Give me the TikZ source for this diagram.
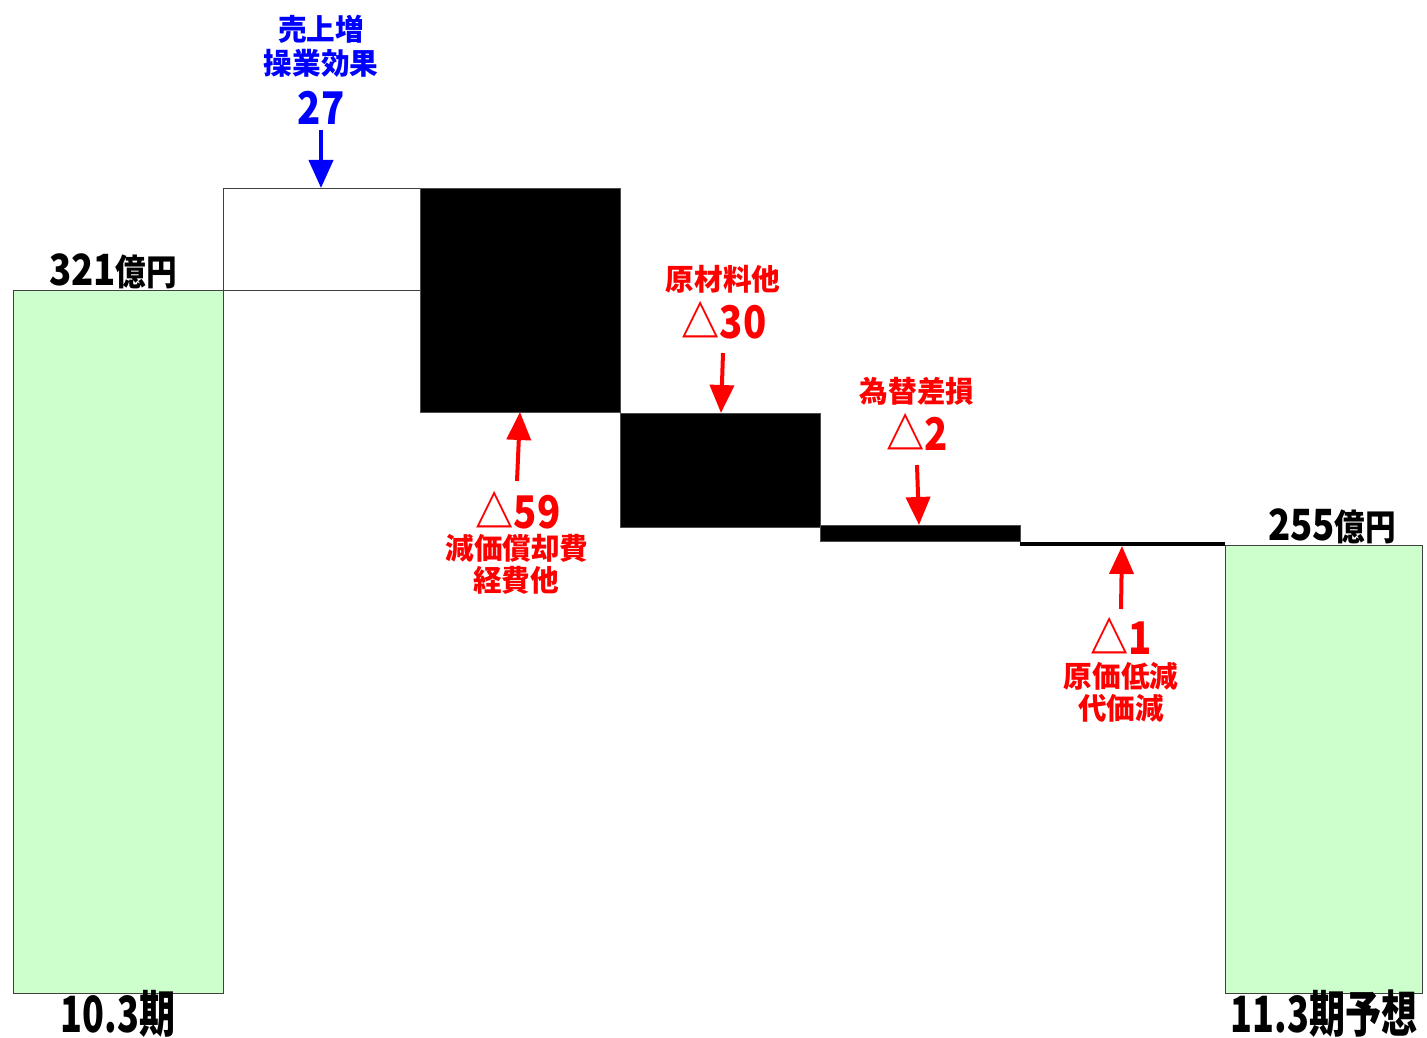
\documentclass[tikz,border=0pt]{standalone}
\usepackage{fontspec}
\newfontfamily\jp[FakeStretch=0.85]{Noto Sans CJK JP}
\newfontfamily\jpl[FakeStretch=0.97]{Noto Sans CJK JP}
\newfontfamily\jpn[FakeStretch=0.72]{Noto Sans CJK JP}
\usetikzlibrary{arrows.meta}
\definecolor{barg}{HTML}{CCFFCC}
\definecolor{edgeg}{HTML}{404040}
\definecolor{lblue}{HTML}{0000FF}
\definecolor{lred}{HTML}{FF0000}
\tikzset{
  greenbar/.style={fill=barg, draw=edgeg, line width=1pt},
  blackbar/.style={fill=black, draw=black!70, line width=1pt},
  whitebar/.style={fill=white, draw=edgeg, line width=1pt},
  lbl/.style={inner sep=0pt, font=\jpl\bfseries\fontsize{29.5}{32}\selectfont},
  num/.style={inner sep=0pt, font=\jp\bfseries\fontsize{45}{48}\selectfont},
  tot/.style={inner sep=0pt, font=\jp\bfseries\fontsize{43}{46}\selectfont},
  big/.style={inner sep=0pt, anchor=base, font=\jpn\bfseries\fontsize{50}{54}\selectfont},
  arr/.style={line width=4pt, -{Triangle[length=28pt,width=24pt]}},
}
\begin{document}
\begin{tikzpicture}[x=1pt,y=-1pt]
\useasboundingbox (0,0) rectangle (1427,1038);
% bars
\draw[greenbar] (13,290) rectangle (223,993);
\draw[whitebar] (223,188) rectangle (420,290);
\draw[blackbar] (420,188) rectangle (620,412);
\draw[blackbar] (620,413) rectangle (820,527);
\draw[blackbar] (820,525) rectangle (1020,541);
\fill[black] (1020,542) rectangle (1225,546);
\draw[greenbar] (1225,545) rectangle (1422,993);
% totals
\node[tot] (t1) at (113,271) {321{\fontsize{36}{38}\selectfont 億円}};
\node[tot] (t2) at (1332,526) {255{\fontsize{36}{38}\selectfont 億円}};
\node[big] (p1) at (118,1032) {10.3期};
\node[big] (p2) at (1324,1032) {11.3期予想};
% blue
\node[lbl, text=lblue] (b1) at (321,29) {売上増};
\node[lbl, text=lblue] (b2) at (321,63) {操業効果};
\node[num, text=lblue] (b3) at (321,108) {27};
\coordinate (bt) at (321,130);
\coordinate (bh) at (321,188);
\draw[arr, lblue] (bt) -- (bh);
% red 59
\node[num, text=lred] (r1) at (518,510) {△59};
\node[lbl, text=lred] (r1a) at (517,548) {減価償却費};
\node[lbl, text=lred] (r1b) at (516,580) {経費他};
\coordinate (r1t) at (517,481);
\coordinate (r1h) at (520,412);
\draw[arr, lred] (r1t) -- (r1h);
% red 30
\node[lbl, text=lred] (r2a) at (723,279) {原材料他};
\node[num, text=lred] (r2) at (724,320) {△30};
\coordinate (r2t) at (723,353);
\coordinate (r2h) at (721,413);
\draw[arr, lred] (r2t) -- (r2h);
% red 2
\node[lbl, text=lred] (r3a) at (917,391) {為替差損};
\node[num, text=lred] (r3) at (917,432) {△2};
\coordinate (r3t) at (917,465);
\coordinate (r3h) at (919,525);
\draw[arr, lred] (r3t) -- (r3h);
% red 1
\node[num, text=lred] (r4) at (1121,636) {△1};
\node[lbl, text=lred] (r4a) at (1121,676) {原価低減};
\node[lbl, text=lred] (r4b) at (1121,708) {代価減};
\coordinate (r4t) at (1121,609);
\coordinate (r4h) at (1122,546);
\draw[arr, lred] (r4t) -- (r4h);
\end{tikzpicture}
\end{document}
